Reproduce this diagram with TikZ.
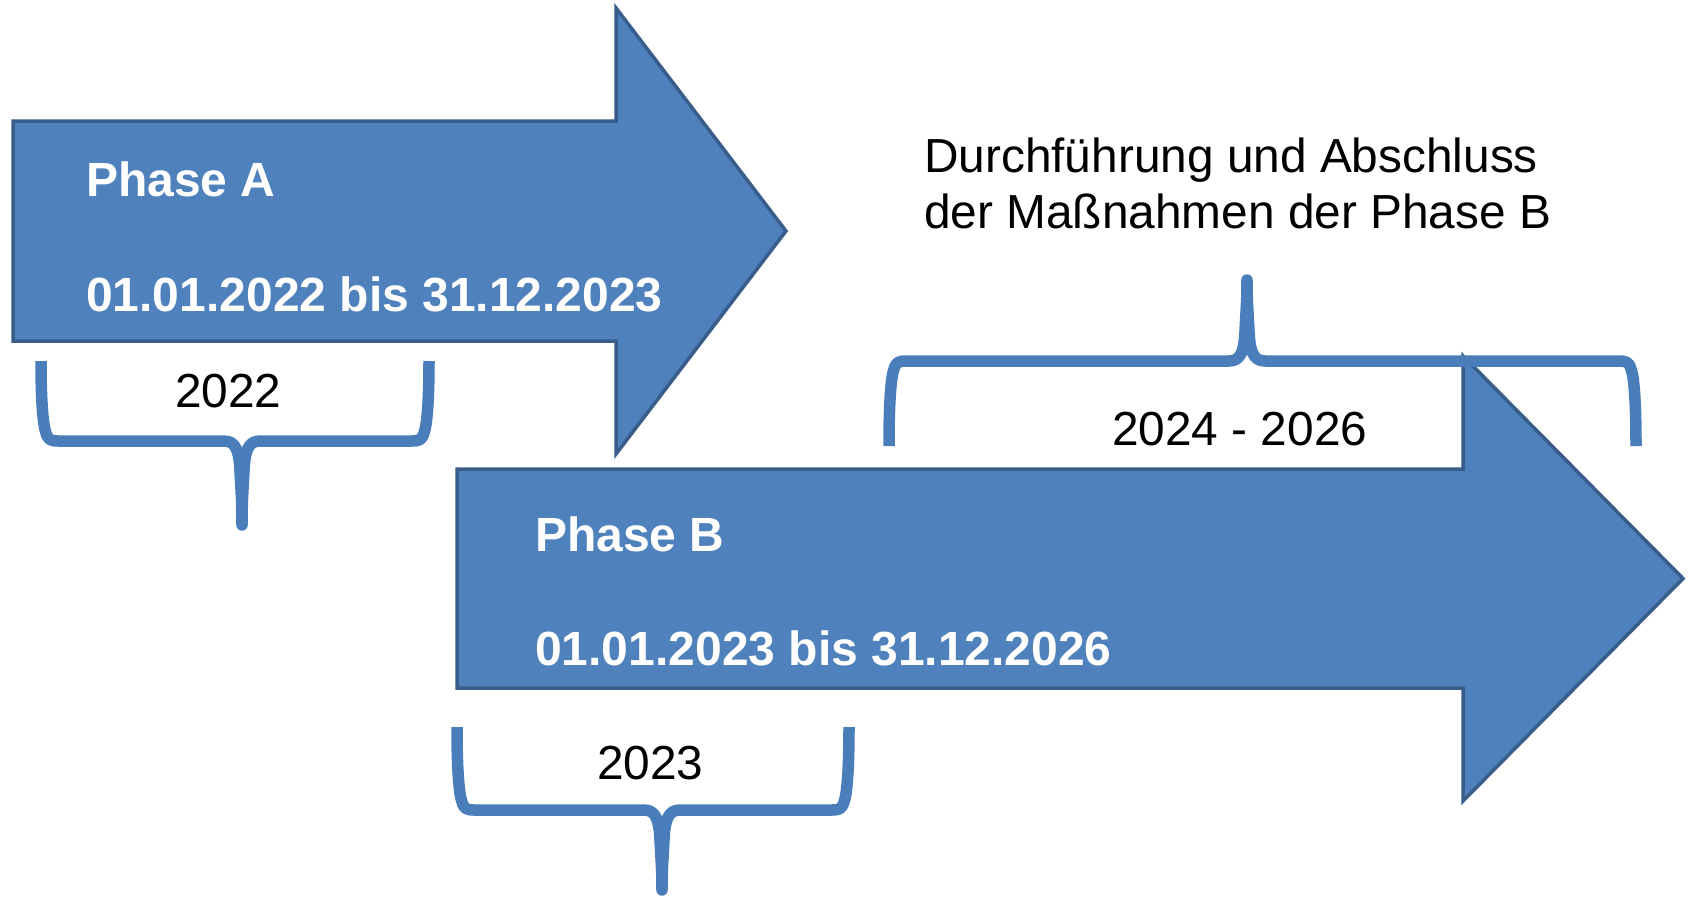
\documentclass[tikz,border=0pt]{standalone}
\usepackage{fontspec}
\setmainfont{Liberation Sans}
\definecolor{arrowfill}{HTML}{4F81BD}
\definecolor{arrowline}{HTML}{385D8A}
\definecolor{bracecol}{HTML}{4A7EBB}
% #1 xl, #2 xr, #3 leg end y, #4 bar y, #5 stem x, #6 stem end y, #7 sign (+1 stem down, -1 stem up)
\newcommand\mybrace[7]{%
  \draw[bracestyle] ({#1},{#3}) .. controls ({#1},{#4-(#7)*40}) and ({#1+2},{#4-(#7)*16}) .. ({#1+5},{#4-(#7)*8})
     .. controls ({#1+7},{#4-(#7)*1}) and ({#1+10},{#4}) .. ({#1+17},{#4})
     -- ({#5-18},{#4}) .. controls ({#5-6},{#4}) and ({#5-3},{#4+(#7)*10}) .. ({#5-2},{#4+(#7)*30})
     .. controls ({#5-1},{#4+(#7)*50}) and ({#5},{#4+(#7)*60}) .. ({#5},{#6});
  \draw[bracestyle] ({#2},{#3}) .. controls ({#2},{#4-(#7)*40}) and ({#2-2},{#4-(#7)*16}) .. ({#2-5},{#4-(#7)*8})
     .. controls ({#2-7},{#4-(#7)*1}) and ({#2-10},{#4}) .. ({#2-17},{#4})
     -- ({#5+18},{#4}) .. controls ({#5+6},{#4}) and ({#5+3},{#4+(#7)*10}) .. ({#5+2},{#4+(#7)*30})
     .. controls ({#5+1},{#4+(#7)*50}) and ({#5},{#4+(#7)*60}) .. ({#5},{#6});
  \fill[bracecol] ({#5},{#6}) circle (5.75);
}
\begin{document}
\begin{tikzpicture}[x=1pt,y=-1pt,
  arrowshape/.style={fill=arrowfill,draw=arrowline,line width=3.5pt,line join=miter},
  bracestyle/.style={draw=bracecol,line width=11.5pt,line cap=butt,line join=round},
  whitetext/.style={text=white,font=\fontsize{48}{56}\selectfont\bfseries,inner sep=0pt,anchor=base west},
  blacktext/.style={text=black,font=\fontsize{47.8}{56}\selectfont,inner sep=0pt,anchor=base west}]
\useasboundingbox (0,0) rectangle (1690,897);
% arrows
\draw[arrowshape] (13,121) -- (616,121) -- (616,8) -- (786,231) -- (616,454) -- (616,341) -- (13,341) -- cycle;
\draw[arrowshape] (457,469) -- (1463,469) -- (1463,356) -- (1683,578.5) -- (1463,801) -- (1463,688) -- (457,688) -- cycle;
% texts
\node[whitetext] (phaseA) at (86,196) {Phase A};
\node[whitetext] (dateA) at (86,311) {01.01.2022 bis 31.12.2023};
\node[whitetext] (phaseB) at (535,551) {Phase B};
\node[whitetext] (dateB) at (535,665) {01.01.2023 bis 31.12.2026};
\node[blacktext] (y2022) at (175,407) {2022};
\node[blacktext] (y2023) at (597,779) {2023};
\node[blacktext] (y2426) at (1112,445) {2024 - 2026};
\node[blacktext] (durch1) at (924,172) {Durchführung und Abschluss};
\node[blacktext] (durch2) at (924,228) {der Maßnahmen der Phase B};
% braces
\mybrace{41}{429}{361}{441}{242}{525}{1}
\mybrace{457}{849}{727}{810}{662}{890}{1}
\mybrace{889}{1636}{446}{361}{1247}{280}{-1}
\end{tikzpicture}
\end{document}
